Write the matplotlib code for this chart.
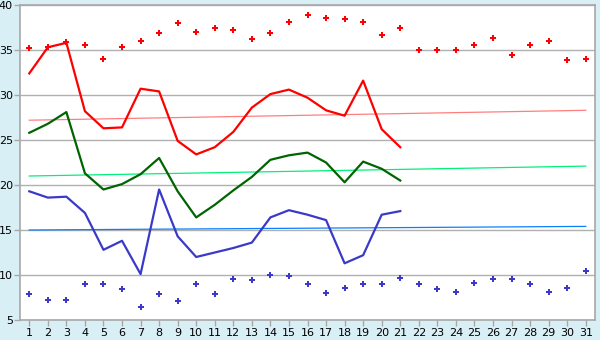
import matplotlib
matplotlib.use("Agg")
import matplotlib.pyplot as plt
import numpy as np

days = list(range(1, 32))
days_obs = list(range(1, 22))

max_temp = [32.4, 35.3, 35.8, 28.2, 26.3, 26.4, 30.7, 30.4, 24.9, 23.4,
            24.2, 25.9, 28.6, 30.1, 30.6, 29.7, 28.3, 27.7, 31.6, 26.2, 24.2]
mean_temp = [25.8, 26.8, 28.1, 21.3, 19.5, 20.1, 21.2, 23.0, 19.3, 16.4,
             17.8, 19.4, 20.9, 22.8, 23.3, 23.6, 22.5, 20.3, 22.6, 21.8, 20.5]
min_temp = [19.3, 18.6, 18.7, 16.9, 12.8, 13.8, 10.1, 19.5, 14.3, 12.0,
            12.5, 13.0, 13.6, 16.4, 17.2, 16.7, 16.1, 11.3, 12.2, 16.7, 17.1]

record_max = [35.2, 35.3, 35.9, 35.6, 34.0, 35.3, 36.0, 36.9, 38.0, 37.0,
              37.5, 37.2, 36.2, 36.9, 38.1, 38.9, 38.6, 38.5, 38.1, 36.7, 37.5,
              35.0, 35.0, 35.0, 35.6, 36.3, 34.4, 35.6, 36.0, 33.9, 34.0]
record_min = [7.9, 7.2, 7.2, 9.0, 9.0, 8.4, 6.4, 7.9, 7.1, 9.0,
              7.9, 9.6, 9.5, 10.0, 9.9, 9.0, 8.0, 8.6, 9.0, 9.0, 9.7,
              9.0, 8.5, 8.1, 9.1, 9.6, 9.6, 9.0, 8.1, 8.6, 10.4]

trend_max = [27.2, 28.3]
trend_mean = [21.0, 22.1]
trend_min = [15.0, 15.4]
trend_days = [1, 31]

yticks = [5, 10, 15, 20, 25, 30, 35, 40]

bg = "#d9eff6"
fig = plt.figure(figsize=(6, 3.4), dpi=100, facecolor=bg)
ax = fig.add_axes([20/600, 20/340, 575/600, 315/340])
ax.set_facecolor("white")

ax.plot(trend_days, trend_max, color="#ff7f7f", lw=0.9, zorder=2)
ax.plot(trend_days, trend_mean, color="#00f07a", lw=0.9, zorder=2)
ax.plot(trend_days, trend_min, color="#0a80ff", lw=0.9, zorder=2)

ax.plot(days_obs, max_temp, color="#ff0000", lw=1.6, zorder=3)
ax.plot(days_obs, mean_temp, color="#006400", lw=1.6, zorder=3)
ax.plot(days_obs, min_temp, color="#3a3ac8", lw=1.6, zorder=3)

ax.plot(days, record_max, ls="none", marker="P", ms=4.5, color="#ff0000", mew=0, zorder=4)
ax.plot(days, record_min, ls="none", marker="P", ms=4.5, color="#3a3ac8", mew=0, zorder=4)

ax.set_xlim(0.5, 31.5)
ax.set_ylim(5, 40)
ax.set_xticks(days)
ax.set_xticklabels([str(d) for d in days])
ax.set_yticks(yticks)
ax.grid(axis="y", color="#b0b0b0", lw=1)
ax.set_axisbelow(True)
for s in ax.spines.values():
    s.set_color("#a8a8a8")
    s.set_linewidth(1.2)
ax.tick_params(axis="both", colors="#a8a8a8", labelcolor="black", labelsize=8, length=4, width=1)
ax.tick_params(axis="y", pad=1)
ax.tick_params(axis="x", pad=2)

fig.savefig("out.png", dpi=100, facecolor=bg)
